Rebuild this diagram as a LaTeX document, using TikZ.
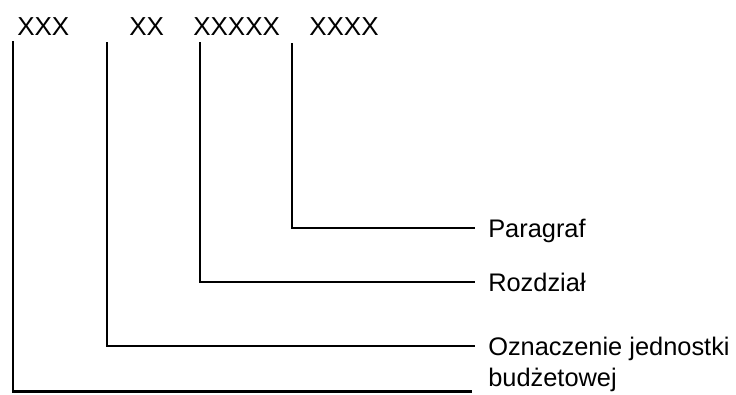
\documentclass[tikz,border=0pt]{standalone}
\usepackage{fontspec}
\setmainfont{Liberation Sans}
\usetikzlibrary{positioning}

\begin{document}
\begin{tikzpicture}
  [x=1pt, y=-1pt,
   line width=2.5pt,
   codenode/.style={anchor=base west,
                    inner sep=0pt,
                    font=\fontsize{26}{30}\selectfont},
   labelnode/.style={anchor=west,
                     inner xsep=12pt, inner ysep=0pt,
                     text height=18pt, text depth=0pt,
                     font=\fontsize{25.4}{30}\selectfont},]
  \useasboundingbox (0,0) rectangle (736,394);
  % codes
  \node[codenode] (xxx)   at (16,35)  {XXX};
  \node[codenode] (xx)    at (128,35) {XX};
  \node[codenode] (xxxxx) at (192,35) {XXXXX};
  \node[codenode] (xxxx)  at (308,35) {XXXX};
  % labels
  \node[labelnode] (par)  at (475,228) {Paragraf};
  \node[labelnode] (roz)  at (475,282) {Rozdział};
  \node[labelnode] (ozn)  at (475,346) {Oznaczenie jednostki};
  \node[labelnode] (budz) [below right=11pt and 0pt of ozn.south west,
                           anchor=north west] {budżetowej};
  % line starts
  \coordinate (t-xxx)   at (13,41);
  \coordinate (t-xx)    at (107,42);
  \coordinate (t-xxxxx) at (200,42);
  \coordinate (t-xxxx)  at (292,43);
  \coordinate (e-xxx)   at (472,391.5);
  \draw (t-xxxx)  |- (par.west);
  \draw (t-xxxxx) |- (roz.west);
  \draw (t-xx)    |- (ozn.west);
  \draw (t-xxx)   |- (e-xxx);
\end{tikzpicture}
\end{document}
